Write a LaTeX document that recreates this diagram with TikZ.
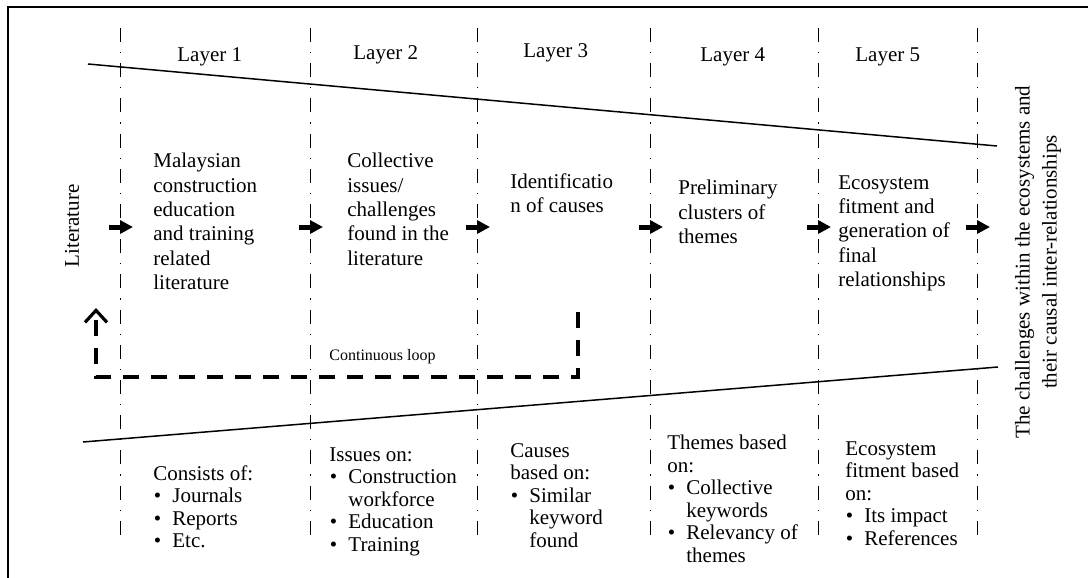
\documentclass[tikz,border=0pt]{standalone}
\usepackage{fontspec}
\setmainfont{Liberation Serif}
\usetikzlibrary{arrows.meta, calc, positioning}

\newcommand{\bul}{\hspace*{0.2pt}\makebox[9.3pt][l]{\textbullet}}
\newcommand{\cont}{\hspace*{9.5pt}}

\begin{document}
\begin{tikzpicture}[x=0.5pt, y=-0.5pt,
        every node/.style={inner sep=0pt},
        layer/.style={anchor=north west, font=\fontsize{10.5}{12}\selectfont},
        main/.style={anchor=north west, align=left, font=\fontsize{10.5}{12.15}\selectfont},
        sub/.style={anchor=north west, align=left, font=\fontsize{10.5}{11.25}\selectfont},
        sep/.style={line width=0.5pt, dash pattern=on 7pt off 5pt on 0.6pt off 5pt},
        slant/.style={line width=0.75pt},
        flow/.style={line width=2.5pt, -{Triangle[length=6.5pt,width=6.5pt]}},
        feedback/.style={line width=2pt, dash pattern=on 8pt off 6pt, -{Straight Barb[length=6pt,width=11pt,line width=1.6pt]}}]
                        \useasboundingbox (0,0) rectangle (1088,578);
                        \clip (0,0) rectangle (1088,578);
                        \draw[line width=1pt] (8,7) rectangle (1100,590);

                        % layer borders and arrows
                        \foreach \x [count=\i] in {120,310,477,650,818,977} {
                            \coordinate (t\i) at (\x,28);
                            \coordinate (b\i) at (\x,535);
                            \coordinate (p\i) at (\x-11,227);
                            \coordinate (q\i) at (\x+13,227);
                            \draw[sep] (t\i) -- (b\i);
                            \draw[flow] (p\i) -- (q\i);
                        }

                        \coordinate (ua) at (88,64);
                        \coordinate (ub) at (997,146);
                        \coordinate (la) at (83,442);
                        \coordinate (lb) at (998,367);
                        \draw[slant] (ua) -- (ub);
                        \draw[slant] (la) -- (lb);

                        \node[layer] (l1) at (177,47) {Layer 1};
                        \node[layer] (l2) at (353,45) {Layer 2};
                        \node[layer] (l3) at (523,43) {Layer 3};
                        \node[layer] (l4) at (700,47) {Layer 4};
                        \node[layer] (l5) at (855,47) {Layer 5};

                        \node[rotate=90, font=\fontsize{10.5}{12}\selectfont] (lit) at (72,226) {Literature};
                        \node[rotate=90, align=center, font=\fontsize{10.5}{13.5}\selectfont] (out) at (1038,262)
                            {The challenges within the ecosystems and\\their causal inter-relationships};

                        \node[main] (m1) at (153,153) {Malaysian\\construction\\education\\and training\\related\\literature};
                        \node[main] (m2) at (347,153) {Collective\\issues/\\challenges\\found in the\\literature};
                        \node[main] (m3) at (510,173) {Identificatio\\n of causes};
                        \node[main] (m4) at (678,180) {Preliminary\\clusters of\\themes};
                        \node[main] (m5) at (838,175) {Ecosystem\\fitment and\\generation of\\final\\relationships};

                        \node[sub] (s1) at (153,465) {Consists of:\\\bul Journals\\\bul Reports\\\bul Etc.};
                        \node[sub] (s2) at (329,447) {Issues on:\\\bul Construction\\\cont workforce\\\bul Education\\\bul Training};
                        \node[sub] (s3) at (510,443) {Causes\\based on:\\\bul Similar\\\cont keyword\\\cont found};
                        \node[sub] (s4) at (667,435) {Themes based\\on:\\\bul Collective\\\cont keywords\\\bul Relevancy of\\\cont themes};
                        \node[sub] (s5) at (845,441) {Ecosystem\\fitment based\\on:\\\bul Its impact\\\bul References};

                        % continuous loop
                        \coordinate (k1) at (578,312);
                        \coordinate (k2) at (578,377);
                        \coordinate (k3) at (96,377);
                        \coordinate (k4) at (96,308);
                        \draw[feedback] (k1) -- (k2) -- (k3) -- (k4);
                        \node[anchor=north west, font=\fontsize{8}{9}\selectfont] (kl) at (329,349) {Continuous loop};
\end{tikzpicture}
\end{document}
